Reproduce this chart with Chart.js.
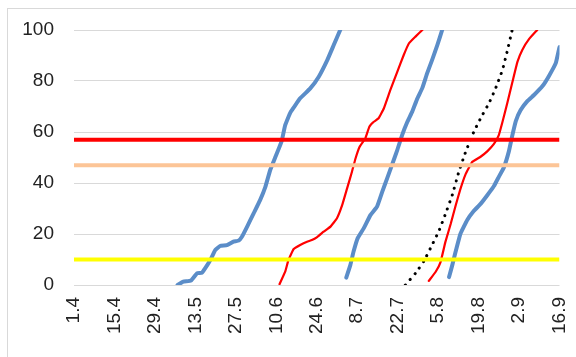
<!DOCTYPE html>
<html>
<head>
<meta charset="utf-8">
<script src="https://cdn.jsdelivr.net/npm/chart.js@4/dist/chart.umd.min.js"></script>
<style>
  html, body { margin: 0; padding: 0; background: #fff; }
  #wrap { position: relative; width: 576px; height: 357px; overflow: hidden; }
  #frame { position: absolute; left: 7px; top: 8px; width: 600px; height: 400px;
           border: 1px solid #d9d9d9; box-sizing: border-box; }
  canvas { position: absolute; left: 0; top: 0; }
</style>
</head>
<body>
<div id="wrap">
  <div id="frame"></div>
  <canvas id="c" width="576" height="357"></canvas>
</div>
<script>
// Category axis labels, one every step along the x axis
const tickLabels = ['1.4', '15.4', '29.4', '13.5', '27.5', '10.6', '24.6', '8.7', '22.7', '5.8', '19.8', '2.9', '16.9'];

// Reference levels
const levelRed = 57;
const levelPeach = 47;
const levelYellow = 10;

// Cumulative curves: [position on category axis, value]
const blueA = [[2.56,0],[2.70,1.3],[2.89,1.7],[3.04,4.6],[3.16,4.8],[3.24,6.5],[3.37,9.8],[3.49,13.7],[3.61,15.3],[3.78,15.6],[3.94,17.0],[4.07,17.4],[4.15,18.9],[4.28,22.9],[4.44,28.1],[4.60,33.3],[4.73,38.5],[4.85,45.1],[4.98,50.3],[5.08,54.2],[5.14,56.9],[5.22,62.7],[5.35,67.7],[5.59,73.2],[5.84,77.1],[6.05,81.7],[6.26,88.2],[6.42,94.1],[6.58,100]];
const redA = [[5.08,0.3],[5.22,5.2],[5.30,9.8],[5.43,14.1],[5.59,15.7],[5.76,17.0],[5.88,17.6],[6.01,18.8],[6.17,20.9],[6.34,22.9],[6.50,26.2],[6.63,31.4],[6.75,37.9],[6.87,44.4],[6.96,49.7],[7.06,54.2],[7.20,57.5],[7.30,62.1],[7.41,64.0],[7.53,65.4],[7.66,69.3],[7.82,76.5],[7.99,83.6],[8.15,90.2],[8.28,94.8],[8.44,97.4],[8.61,100]];
const blueB = [[6.73,2.9],[6.83,7.8],[6.91,13.1],[7.01,18.3],[7.16,22.2],[7.33,27.5],[7.49,30.7],[7.62,36.6],[7.74,41.8],[7.86,47.1],[7.99,52.9],[8.11,58.8],[8.24,64.0],[8.36,68.0],[8.48,72.9],[8.61,77.3],[8.73,83.1],[8.85,88.2],[8.98,94.1],[9.10,100]];
const blackDotted = [[8.19,0],[8.44,4.6],[8.65,9.4],[8.85,15.7],[9.02,21.2],[9.18,27.8],[9.35,35.3],[9.51,44.3],[9.68,52.2],[9.88,60.0],[10.05,65.4],[10.26,71.4],[10.42,77.1],[10.59,84.3],[10.71,91.8],[10.83,100]];
const redB = [[8.77,1.6],[8.94,5.2],[9.06,9.0],[9.18,16.9],[9.31,23.9],[9.43,31.0],[9.55,37.6],[9.68,43.5],[9.84,48.2],[10.05,50.3],[10.22,52.5],[10.38,55.3],[10.50,58.8],[10.59,63.9],[10.71,71.4],[10.83,79.2],[10.96,87.5],[11.08,92.2],[11.25,96.5],[11.45,100]];
const blueC = [[9.27,3.1],[9.35,7.8],[9.43,12.9],[9.55,20.0],[9.72,25.5],[9.88,29.0],[10.05,31.8],[10.22,35.3],[10.38,38.8],[10.50,42.4],[10.63,46.3],[10.75,52.5],[10.83,58.4],[10.92,64.3],[11.04,68.6],[11.21,72.2],[11.37,74.5],[11.58,78.0],[11.74,82.0],[11.91,87.1],[12.0,93.3]];

const X_MIN = 0, X_MAX = tickLabels.length - 1;

const toPts = arr => arr.map(([x, y]) => ({ x, y }));
const flat = v => [{ x: X_MIN, y: v }, { x: X_MAX, y: v }];

const BLUE = '#5b8dc8';
const RED = '#ff0000';

const curve = (data, color, width, extra) => Object.assign({
  data: toPts(data), borderColor: color, borderWidth: width,
  pointRadius: 0, tension: 0.1, borderJoinStyle: 'round', borderCapStyle: 'round', fill: false
}, extra || {});

const level = (v, color) => ({
  data: flat(v), borderColor: color, borderWidth: 4, pointRadius: 0, fill: false, borderCapStyle: 'butt'
});

Chart.defaults.font.family = '"Liberation Sans", Arial, sans-serif';
Chart.defaults.color = '#222';

new Chart(document.getElementById('c'), {
  type: 'line',
  data: {
    datasets: [
      level(levelRed, RED),
      level(levelPeach, '#fcc597'),
      level(levelYellow, '#ffff00'),
      curve(blueA, BLUE, 4),
      curve(redA, RED, 2.2),
      curve(blueB, BLUE, 4),
      curve(blackDotted, '#000', 3, { borderDash: [0.1, 7.2] }),
      curve(redB, RED, 2.2),
      curve(blueC, BLUE, 4)
    ]
  },
  options: {
    responsive: false,
    animation: false,
    devicePixelRatio: 1,
    layout: { padding: { left: 0, right: 16.5, top: 30, bottom: 0 } },
    plugins: { legend: { display: false }, tooltip: { enabled: false } },
    scales: {
      x: {
        type: 'linear',
        min: X_MIN, max: X_MAX,
        grid: { display: false, drawTicks: false },
        border: { display: false },
        afterFit: s => { s.height = 72; s.paddingLeft = 0; s.paddingRight = 0; },
        ticks: {
          stepSize: 1, autoSkip: false, minRotation: 90, maxRotation: 90,
          padding: 12, font: { size: 19 },
          callback: v => tickLabels[v]
        }
      },
      y: {
        min: 0, max: 100,
        grid: { color: '#d9d9d9', lineWidth: 1, drawTicks: false },
        border: { display: false },
        afterFit: s => { s.width = 74; s.paddingTop = 0; s.paddingBottom = 0; },
        ticks: { stepSize: 20, padding: 20, font: { size: 19 } }
      }
    }
  }
});
</script>
</body>
</html>
